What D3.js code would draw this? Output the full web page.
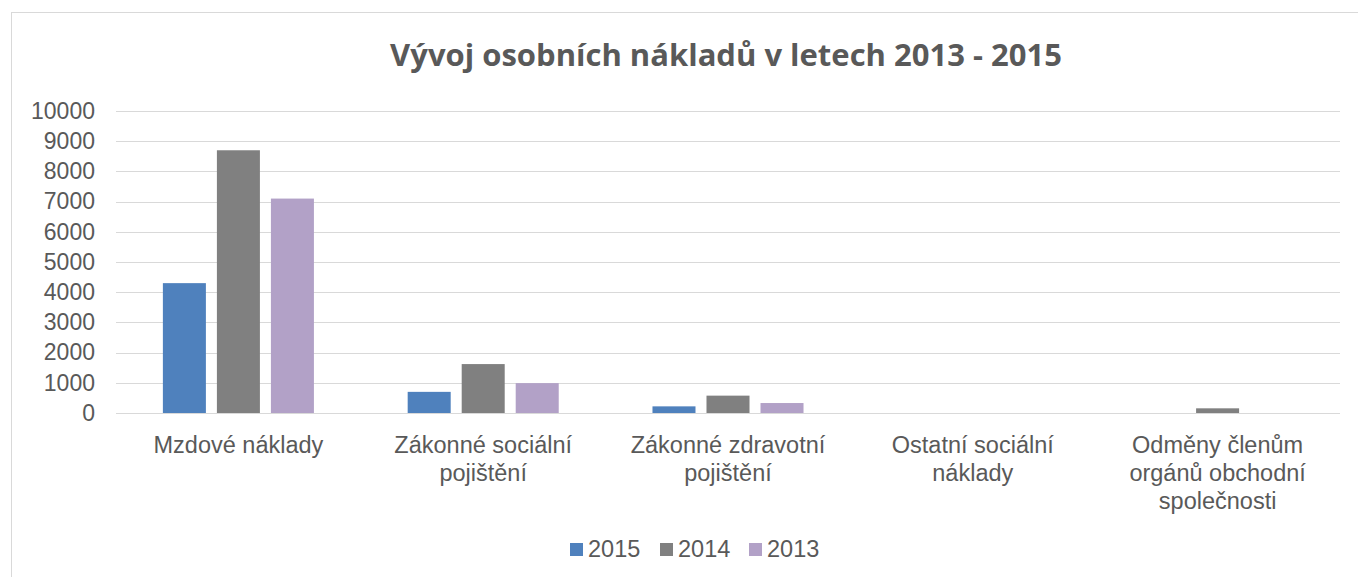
<!DOCTYPE html>
<html lang="cs">
  <head>
    <meta charset="utf-8">
    <title>Vývoj osobních nákladů v letech 2013 - 2015</title>
    <style>
      body{ margin:0; background:#fff; }
      text{ font-family:"Liberation Sans", Arial, sans-serif; fill:#595959; }
      .grid line{ stroke:#d9d9d9; }
    </style>
    <script type="text/javascript" src="https://cdn.jsdelivr.net/npm/d3@7/dist/d3.min.js"></script>
  </head>
  <body>
  <svg width="1358" height="577"></svg>
    <script>
// data
var categories = [
  ["Mzdové náklady"],
  ["Zákonné sociální", "pojištění"],
  ["Zákonné zdravotní", "pojištění"],
  ["Ostatní sociální", "náklady"],
  ["Odměny členům", "orgánů obchodní", "společnosti"]
];
var years = ["2015", "2014", "2013"];
var colors = ["#4f81bd", "#808080", "#b2a1c7"];
var values2015 = [4300, 700, 220, 0, 0];
var values2014 = [8700, 1620, 575, 0, 155];
var values2013 = [7100, 990, 330, 0, 0];
var yTicks = [0, 1000, 2000, 3000, 4000, 5000, 6000, 7000, 8000, 9000, 10000];

var series = [values2015, values2014, values2013];

var svg = d3.select("svg"),
    margin = {top: 111, right: 18, bottom: 164, left: 116},
    width = +svg.attr("width") - margin.left - margin.right,
    height = +svg.attr("height") - margin.top - margin.bottom;

// chart frame
svg.append("rect")
    .attr("x", 11.5).attr("y", 12.5)
    .attr("width", 1400).attr("height", 600)
    .attr("fill", "none").attr("stroke", "#d9d9d9");

svg.append("text")
    .attr("x", 726)
    .attr("y", 66)
    .attr("text-anchor", "middle")
    .style("font-family", "'Open Sans', sans-serif")
    .style("font-weight", "bold")
    .style("font-size", "31px")
    .text("Vývoj osobních nákladů v letech 2013 - 2015");

var g = svg.append("g")
    .attr("transform", "translate(" + margin.left + "," + margin.top + ")");

var x0 = d3.scaleBand().domain(d3.range(categories.length)).range([0, width]).paddingInner(0.383).paddingOuter(0.1915);
var x1 = d3.scaleBand().domain(d3.range(years.length)).range([0, x0.bandwidth()]).paddingInner(0.2037).paddingOuter(0);
var y = d3.scaleLinear().domain([0, 10000]).range([height, 0]);

// gridlines
g.append("g")
    .attr("class", "grid")
    .selectAll("line")
    .data(yTicks)
    .enter().append("line")
    .attr("x1", 0).attr("x2", width)
    .attr("y1", function(d){ return Math.round(y(d)) + 0.5; })
    .attr("y2", function(d){ return Math.round(y(d)) + 0.5; });

// y axis
var yAxis = g.append("g")
    .call(d3.axisLeft(y).tickValues(yTicks).tickFormat(d3.format("d")).tickSize(0).tickPadding(21));
yAxis.select(".domain").remove();
yAxis.selectAll("text").style("font-size", "23px").style("font-family", "'Liberation Sans', Arial, sans-serif").attr("fill", "#595959");

// bars
var groups = g.selectAll(".cat")
    .data(categories.map(function(c, i){ return i; }))
    .enter().append("g")
    .attr("transform", function(i){ return "translate(" + x0(i) + ",0)"; });

groups.selectAll("rect")
    .data(function(i){ return series.map(function(s, k){ return {k: k, v: s[i]}; }); })
    .enter().append("rect")
    .attr("x", function(d){ return x1(d.k); })
    .attr("width", x1.bandwidth())
    .attr("y", function(d){ return y(d.v); })
    .attr("height", function(d){ return height - y(d.v); })
    .attr("fill", function(d){ return colors[d.k]; });

// x labels
var xl = g.selectAll(".xlab")
    .data(categories)
    .enter().append("text")
    .attr("text-anchor", "middle")
    .style("font-size", "23.5px")
    .attr("transform", function(d, i){ return "translate(" + (x0(i) + x0.bandwidth() / 2) + "," + (height + 40) + ")"; });
xl.selectAll("tspan")
    .data(function(d){ return d; })
    .enter().append("tspan")
    .attr("x", 0)
    .attr("dy", function(d, j){ return j ? 28 : 0; })
    .text(function(d){ return d; });

// legend
var legendX = [570, 660, 749];
var legend = svg.append("g").attr("transform", "translate(0,557)");
years.forEach(function(yr, k){
  legend.append("rect")
    .attr("x", legendX[k]).attr("y", -14)
    .attr("width", 13).attr("height", 13)
    .attr("fill", colors[k]);
  legend.append("text")
    .attr("x", legendX[k] + 18).attr("y", 0)
    .style("font-size", "23.5px")
    .text(yr);
});
    </script>
  </body>
</html>
